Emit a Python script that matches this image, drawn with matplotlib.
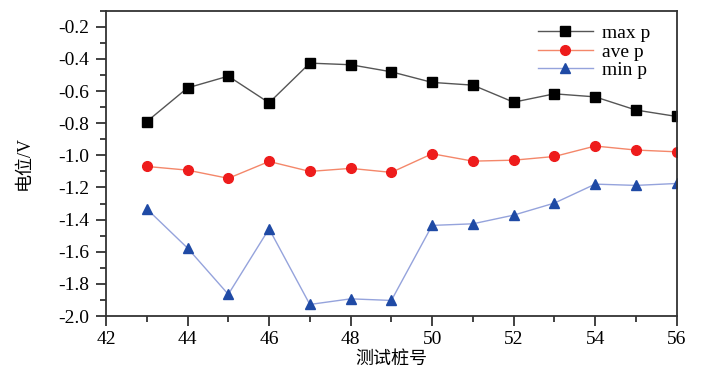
import numpy as np
import matplotlib
matplotlib.use("Agg")
import matplotlib.pyplot as plt
from matplotlib.ticker import MultipleLocator

plt.rcParams['font.family'] = ['Liberation Serif', 'Noto Sans CJK SC']

# data
piles = [43, 44, 45, 46, 47, 48, 49, 50, 51, 52, 53, 54, 55, 56]
max_p = [-0.79, -0.58, -0.507, -0.673, -0.426, -0.436, -0.48, -0.546, -0.563,
         -0.669, -0.617, -0.636, -0.718, -0.758]
ave_p = [-1.069, -1.092, -1.143, -1.038, -1.10, -1.081, -1.106, -0.99, -1.036,
         -1.03, -1.007, -0.942, -0.967, -0.978]
min_p = [-1.333, -1.577, -1.865, -1.457, -1.928, -1.893, -1.903, -1.436, -1.426,
         -1.372, -1.297, -1.179, -1.187, -1.175]

fig = plt.figure(figsize=(7.02, 3.84), dpi=100)
ax = fig.add_axes([0.151, 0.177, 0.813, 0.795])

ax.plot(piles, max_p, color='#555555', lw=1, marker='s', ms=6.5,
        mfc='black', mec='black', label='max p')
ax.plot(piles, ave_p, color='#f4876a', lw=1, marker='o', ms=7,
        mfc='#ee1c1c', mec='#ee1c1c', label='ave p')
ax.plot(piles, min_p, color='#95a3dc', lw=1, marker='^', ms=7.5,
        mfc='#1f4aa5', mec='#1f4aa5', label='min p')

ax.set_xlim(42, 56)
ax.set_ylim(-2.0, -0.1)
ax.xaxis.set_major_locator(MultipleLocator(2))
ax.xaxis.set_minor_locator(MultipleLocator(1))
ax.yaxis.set_major_locator(MultipleLocator(0.2))
ax.yaxis.set_minor_locator(MultipleLocator(0.1))
ax.yaxis.set_major_formatter(plt.FuncFormatter(lambda v, p: f'{v:.1f}'))

ax.tick_params(axis='both', which='major', direction='out', length=7, width=1.3,
               labelsize=14, color='#333333')
ax.tick_params(axis='both', which='minor', direction='out', length=4, width=1.3,
               color='#333333')
ax.tick_params(axis='x', pad=4)
ax.tick_params(axis='y', pad=5)
for s in ax.spines.values():
    s.set_linewidth(1.3)
    s.set_color('#333333')

ax.set_xlabel('测试桩号', fontsize=13, family=['Noto Sans CJK SC'], labelpad=1)
ax.set_ylabel('电位/V', fontsize=13, family=['Liberation Serif', 'Noto Sans CJK SC'],
              labelpad=18)

ax.legend(loc='upper right', bbox_to_anchor=(0.978, 1.0), frameon=False,
          fontsize=14, handlelength=2.8, labelspacing=0.05, borderaxespad=0.3,
          handletextpad=0.5)

fig.savefig('out.png', dpi=100)
